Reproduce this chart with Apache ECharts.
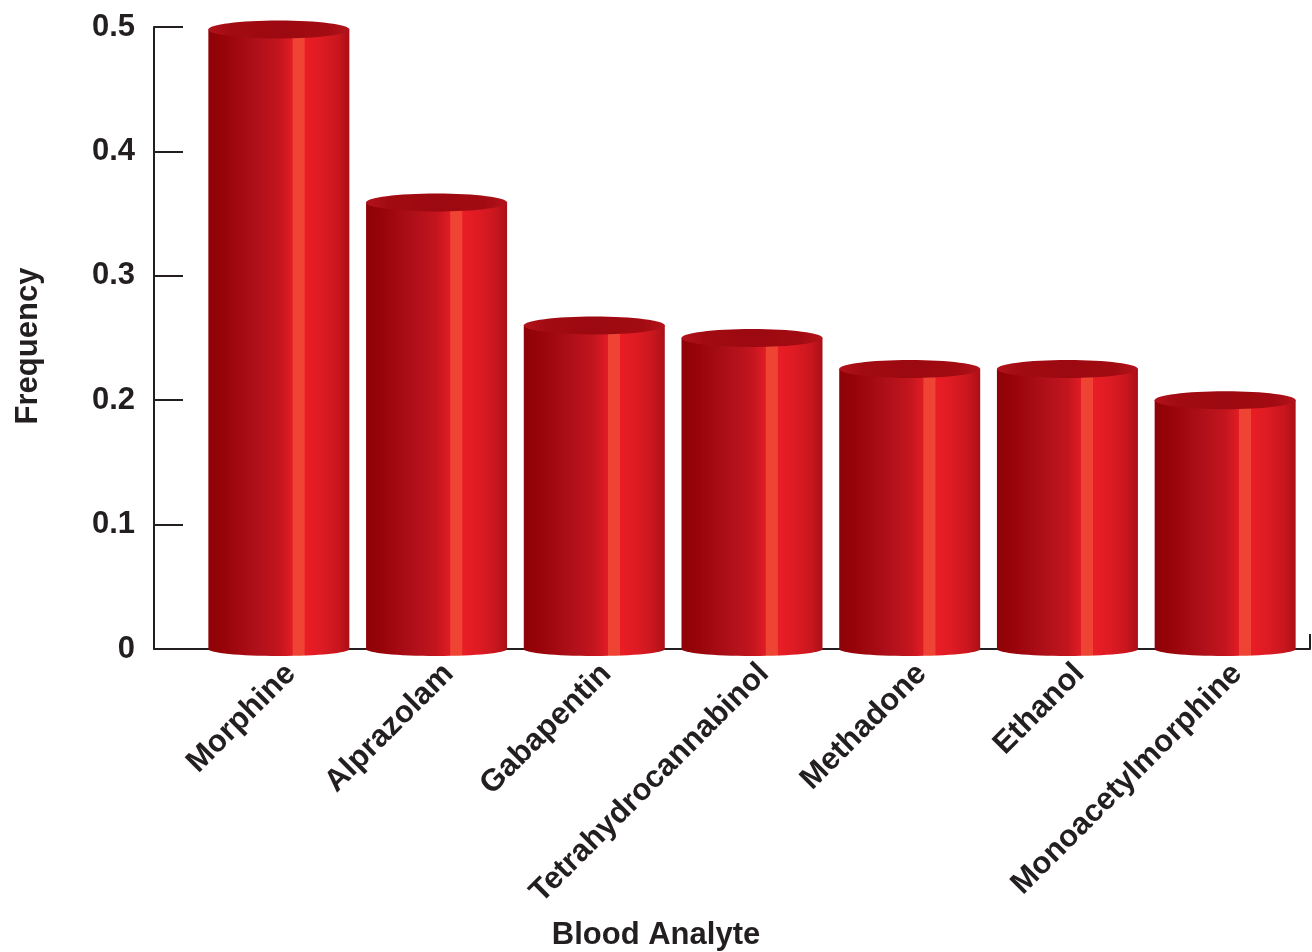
<!DOCTYPE html>
<html><head><meta charset="utf-8">
<script src="https://cdn.jsdelivr.net/npm/echarts@6/dist/echarts.min.js"></script>
<style>html,body{margin:0;padding:0;background:#fff}#c{width:1312px;height:952px}</style>
</head><body><div id="c"></div>
<script>
const categories = ['Morphine', 'Alprazolam', 'Gabapentin', 'Tetrahydrocannabinol', 'Methadone', 'Ethanol', 'Monoacetylmorphine'];
const frequency = [0.498, 0.359, 0.26, 0.25, 0.225, 0.225, 0.2];
const yMin = 0, yMax = 0.5, yStep = 0.1;
const xTitle = 'Blood Analyte';
const yTitle = 'Frequency';

const FONT = "'Liberation Sans', Arial, sans-serif";
const INK = '#231F20';

const chart = echarts.init(document.getElementById('c'), null, {renderer: 'canvas'});

function bodyFill() {
  return new echarts.graphic.LinearGradient(0, 0, 1, 0, [
    {offset: 0, color: '#8E0207'},
    {offset: 0.12, color: '#980409'},
    {offset: 0.35, color: '#B0101A'},
    {offset: 0.5, color: '#C3151E'},
    {offset: 0.595, color: '#E01C25'},
    {offset: 0.6, color: '#EF4433'},
    {offset: 0.68, color: '#EF4433'},
    {offset: 0.685, color: '#EA1D25'},
    {offset: 0.8, color: '#DE1B23'},
    {offset: 0.92, color: '#C8161E'},
    {offset: 1, color: '#AA0F16'}
  ]);
}
function topFill() {
  return new echarts.graphic.LinearGradient(0, 0, 1, 0, [
    {offset: 0, color: '#B3131B'},
    {offset: 0.15, color: '#A30B12'},
    {offset: 0.5, color: '#9C0910'},
    {offset: 0.85, color: '#A30B12'},
    {offset: 1, color: '#B5141C'}
  ]);
}

const option = {
  backgroundColor: '#fff',
  animation: false,
  title: {
    text: xTitle, left: 'center', top: 920, padding: 0,
    textStyle: {fontFamily: FONT, fontSize: 31, fontWeight: 'bold', color: INK}
  },
  grid: [
    {left: 200, right: 8, top: 27, bottom: 303, outerBoundsMode: 'none', containLabel: false},
    {left: 154, right: 2, top: 27, bottom: 303, outerBoundsMode: 'none', containLabel: false}
  ],
  xAxis: [
    {
      type: 'category', gridIndex: 0, data: categories, boundaryGap: true,
      axisLine: {show: false}, axisTick: {show: false},
      axisLabel: {
        rotate: 45, interval: 0, margin: 32, padding: [0, -17, 0, 0],
        fontFamily: FONT, fontSize: 31, fontWeight: 'bold', color: INK
      }
    },
    {
      type: 'value', gridIndex: 1, min: 0, max: 1, interval: 1,
      axisLine: {show: true, lineStyle: {color: INK, width: 2}},
      axisTick: {show: true, inside: true, length: 15, lineStyle: {color: INK, width: 2}},
      axisLabel: {show: false}, splitLine: {show: false}
    }
  ],
  yAxis: [
    {
      type: 'value', gridIndex: 0, min: yMin, max: yMax, interval: yStep, offset: 46,
      name: yTitle, nameLocation: 'middle', nameGap: 110, nameRotate: 90,
      nameTextStyle: {fontFamily: FONT, fontSize: 31, fontWeight: 'bold', color: INK, padding: [0, 16, 0, 0]},
      axisLine: {show: true, lineStyle: {color: INK, width: 2}},
      axisTick: {show: true, inside: true, length: 29, lineStyle: {color: INK, width: 2}},
      axisLabel: {margin: 19, fontFamily: FONT, fontSize: 31, fontWeight: 'bold', color: INK},
      splitLine: {show: false}
    },
    {type: 'value', gridIndex: 1, show: false, min: 0, max: 1}
  ],
  series: [{
    type: 'custom',
    xAxisIndex: 0, yAxisIndex: 0,
    z: 5,
    data: categories.map((c, i) => [i, frequency[i]]),
    renderItem: function (params, api) {
      const i = api.value(0), v = api.value(1);
      const top = api.coord([i, v]);
      const base = api.coord([i, 0]);
      const w = api.size([1, 0])[0] * 0.894;
      const x = top[0] - w / 2;
      return {
        type: 'group',
        children: [
          {type: 'ellipse', shape: {cx: base[0], cy: base[1], rx: w / 2, ry: 7}, style: {fill: bodyFill()}},
          {type: 'rect', shape: {x: x, y: top[1], width: w, height: base[1] - top[1]}, style: {fill: bodyFill()}},
          {type: 'ellipse', shape: {cx: top[0], cy: top[1], rx: w / 2, ry: 9}, style: {fill: topFill()}}
        ]
      };
    }
  }]
};
chart.setOption(option);
</script>
</body></html>
